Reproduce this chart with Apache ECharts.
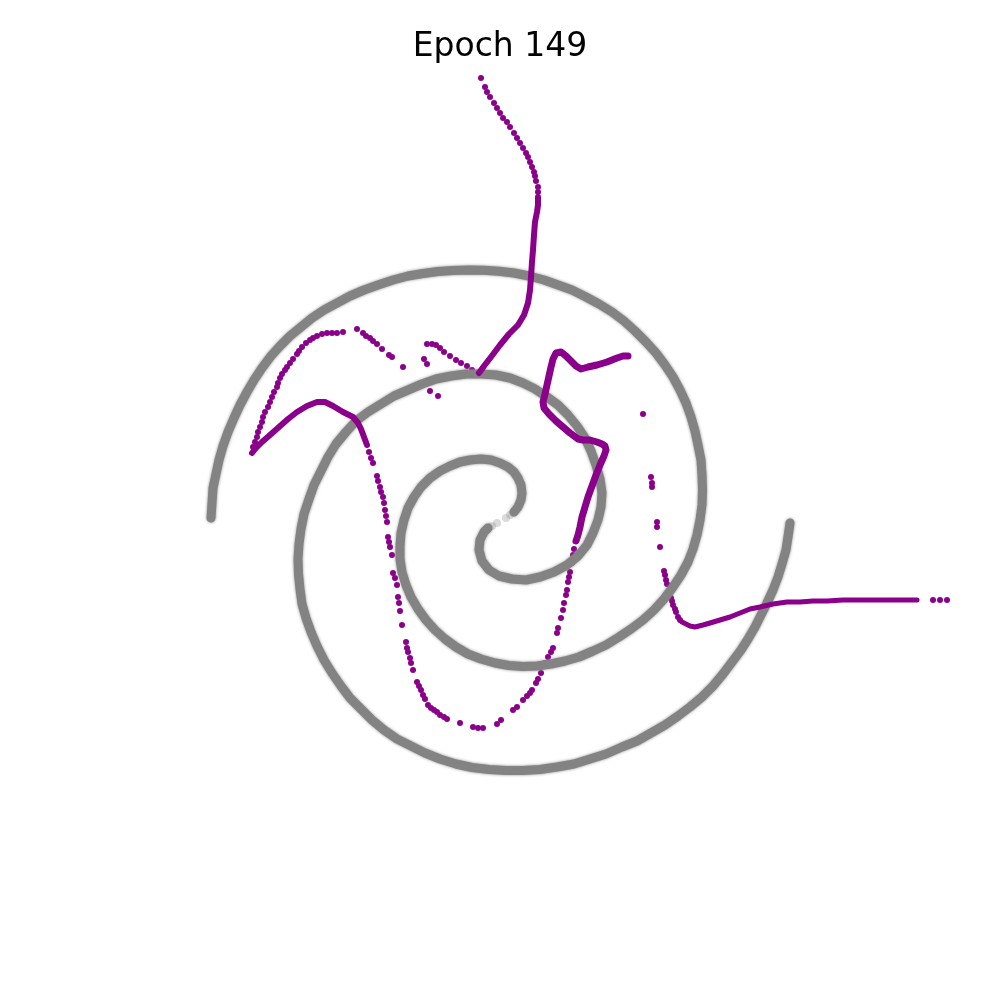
<!DOCTYPE html>
<html>
<head>
<meta charset="utf-8">
<script src="https://cdn.jsdelivr.net/npm/echarts@6/dist/echarts.min.js"></script>
<style>html,body{margin:0;padding:0;background:#fff}#c{width:1000px;height:1000px}</style>
</head>
<body>
<div id="c"></div>
<script>
// Values (plot units: x to the right, y downward, 0..1000)
const titleText = "Epoch 149";

// Gray spiral, arm A (from outer-left end inward)
const spiralA = [[211,518],[212,503],[213,488],[216,474],[219,460],[223,446],[228,432],[234,418],[240,405],[247,392],[254,380],[262,368],[271,356],[280,346],[290,336],[301,327],[312,318],[324,310],[337,303],[350,296],[364,290],[378,285],[393,280],[408,276],[423,273.5],[438,271.5],[453,270.5],[469,270],[484,270.3],[499,271.2],[514,273],[529,276],[544,280],[558,285],[572,290],[586,297],[599,304],[612,312],[624,321],[635,331],[646,342],[656,353],[665,365],[673,377],[680,390],[686,403],[691,417],[695,431],[698,445],[701,460],[702,475],[702.5,490],[702,505],[700,520],[697,535],[693,549],[688,562],[681,575],[673,587],[664,599],[654,610],[643,620],[631,629],[619,637],[606,645],[593,651],[579,657],[565,661],[551,664],[537,666],[523,666.5],[509,665.5],[495,663],[481,659],[468,654],[456,647],[445,639],[435,630],[426,620],[418,609],[411,597],[406,585],[402,572],[400,559],[400,546],[401,533],[404,520],[408,508],[414,497],[421,487],[430,478],[440,471],[450,466],[460,462],[470,460],[481,459],[491,460],[500,463],[508,467],[514,472],[518,478],[521,485],[522,493],[521,500],[518,507],[514,512]];
const spiralATip = [[510,515],[506,518]];
// Gray spiral, arm B (from outer-right end inward)
const spiralB = [[790,523],[788,537],[786,550],[782,564],[778,577],[773,590],[767,603],[761,615],[755,627],[748,639],[741,650],[732,662],[723,674],[713,686],[702,697],[690,707],[678,716],[665,725],[651,733],[637,741],[622,747],[606,754],[590,759],[574,764],[557,767],[540,769.5],[523,770.5],[506,770.5],[489,769.5],[472,767.5],[456,764],[440,759],[425,753],[411,746],[397,739],[384,730],[372,720],[361,709],[350,698],[341,686],[332,673],[324,660],[317,646],[311,632],[306,618],[302,604],[300,589],[298.5,574],[298,559],[299,544],[301,529],[304,514],[309,499],[314,485],[321,471],[328,457],[336,444],[346,432],[356,421],[368,412],[381,404],[394,396],[408,390],[422,384],[436,379],[451,376],[466,374],[481,374],[496,375],[510,378],[523,383],[535,389],[547,397],[558,405],[568,415],[577,426],[585,438],[591,451],[596,465],[600,479],[602,493],[601,507],[598,520],[593,533],[587,545],[578,556],[567,565],[554,572],[540,577],[526,580],[512,579],[499,576],[489,570],[482,561],[479,550],[480,540],[484,532],[488,528]];
const spiralBTip = [[492,526],[497,523]];

// Purple trajectory: dense stretches (drawn as strokes)
const purpleTopLine = [[538,197],[538,205],[537,212],[535,222],[534,235],[533,250],[532,262],[531,277],[530,290],[528,303],[524,315],[518,325],[509,334],[500,345],[491,357],[484,366],[479,373]];
const purpleLeftLine = [[252,453],[256,448],[262,442],[270,435],[279,427],[288,419],[297,412],[307,406],[317,402],[325,402],[333,406],[343,412],[353,417],[358,423],[361,429],[364,437],[367,445]];
const purpleMidLine = [[576,541],[578,535],[580,527],[582,517],[585,507],[588,497],[592,486],[596,475],[600,465],[604,456],[606,450],[605,446],[602,444],[597,442],[590,440],[583,440],[578,439],[570,433],[563,427],[556,421],[549,414],[544,408],[543,402],[545,394],[547,385],[549,376],[551,367],[553,359],[556,353],[561,352],[566,356],[571,361],[576,366],[581,369],[588,367],[597,365],[607,362],[617,358],[623,356],[628,356]];
const purpleRightLine = [[682,622],[690,626],[695,627],[703,625],[710,623],[720,620],[730,617],[740,613],[750,609],[760,607],[773,604],[787,602],[800,602],[813,601],[827,601],[843,600],[860,600],[877,600],[893,600],[907,600],[917,600]];

// Purple trajectory: sparse dots
const purpleDots = [
 [481,78],[485,87],[487,92],[490,97],[494,103],[497,108],[500,113],[503,118],[507,122],[510,127],[514,133],[517,138],[520,143],[523,148],[526,153],[528,157],[530,162],[532,167],[534,172],[535,176],[536,181],[538,187],[538,192],
 [472,370],[467,366],[461,363],[456,360],[450,356],[444,352],[440,348],[436,345],[432,344],[427,344],
 [424,359],[427,364],[430,391],[438,396],[403,367],
 [392,357],[389,355],[382,349],[377,344],[373,341],[370,338],[366,336],[363,333],[357,329],
 [343,332],[337,333],[332,333],[327,333],[322,334],[317,336],[313,338],[310,340],[306,343],[302,347],[299,351],[297,354],[293,359],[290,363],[287,367],[285,370],[282,374],[280,378],[278,383],[277,387],[274,392],[272,397],[270,402],[268,407],[265,412],[263,417],[262,422],[260,427],[258,432],[257,437],[255,442],[253,447],
 [369,452],[371,458],[373,463],[377,476],[378,481],[380,487],[381,492],[383,497],[384,503],[385,510],[386,516],[387,522],[388,537],[389,542],[390,547],[392,555],[393,573],[395,578],[397,585],[398,597],[399,603],[400,611],[402,625],[406,642],[407,648],[408,652],[410,658],[411,663],[413,670],[417,682],[419,686],[421,690],[423,695],[425,699],[428,705],[431,708],[434,710],[437,712],[440,715],[444,717],[447,719],[460,723],[473,727],[478,728],[483,728],[497,724],[501,720],[513,710],[517,707],[523,700],[527,696],[530,693],[532,690],[536,683],[538,679],[541,673],[545,663],[548,657],[551,652],[553,648],[557,633],[558,628],[561,618],[563,610],[564,603],[566,595],[567,590],[568,582],[569,577],[570,572],[572,563],[573,555],[574,549],
 [643,414],[651,477],[652,483],[652,487],[657,522],[657,527],[660,547],[664,571],[665,575],[666,580],[667,584],[671,598],[672,601],[673,605],[675,609],[676,612],[678,617],[680,620],
 [933,600],[940,600],[947,600]
];

const GRAY = '#838383';
const PURPLE = '#8b008b';

function strokeSeries(data, color, width, extra) {
  return Object.assign({
    type: 'line', data: data, symbol: 'none', silent: true,
    lineStyle: { color: color, width: width, cap: 'round', join: 'round' }
  }, extra || {});
}
const grayStyle = { color: GRAY, width: 9, cap: 'round', join: 'round', shadowBlur: 3, shadowColor: 'rgba(128,128,128,0.9)' };

const chart = echarts.init(document.getElementById('c'), null, { renderer: 'canvas' });
chart.setOption({
  animation: false,
  backgroundColor: '#ffffff',
  title: {
    text: titleText, left: 'center', top: 26,
    textStyle: { fontFamily: 'DejaVu Sans', fontSize: 33, fontWeight: 'normal', color: '#000000' }
  },
  grid: { left: 0, right: 0, top: 0, bottom: 0 },
  xAxis: { type: 'value', min: 0, max: 1000, show: false },
  yAxis: { type: 'value', min: 0, max: 1000, inverse: true, show: false },
  series: [
    strokeSeries(spiralA, GRAY, 9, { lineStyle: grayStyle }),
    strokeSeries(spiralB, GRAY, 9, { lineStyle: grayStyle }),
    { type: 'scatter', data: spiralATip.concat(spiralBTip), symbolSize: 8, silent: true,
      itemStyle: { color: 'rgba(150,150,150,0.35)', opacity: 1 } },
    strokeSeries(purpleTopLine, PURPLE, 6),
    strokeSeries(purpleLeftLine, PURPLE, 6),
    strokeSeries(purpleMidLine, PURPLE, 7),
    strokeSeries(purpleRightLine, PURPLE, 5),
    { type: 'scatter', data: purpleDots, symbolSize: 6, silent: true,
      itemStyle: { color: PURPLE, opacity: 1 } }
  ]
});
</script>
</body>
</html>
